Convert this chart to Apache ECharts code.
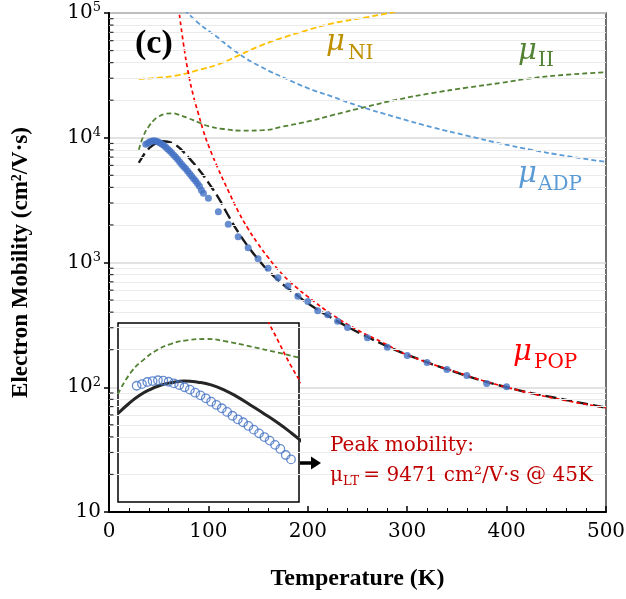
<!DOCTYPE html>
<html>
<head>
<meta charset="utf-8">
<script src="https://cdn.jsdelivr.net/npm/echarts@6.0.0/dist/echarts.min.js"></script>
<style>
  body { margin: 0; background: #fff; }
  #chart { width: 626px; height: 599px; }
</style>
</head>
<body>
<div id="chart"></div>
<script>
// measured mobility (cm2/V.s) vs temperature (K)
let expT = [37, 39, 41, 43, 45, 47, 49, 51, 53, 55, 57, 59, 61, 63, 65, 67, 69, 71, 73, 75,
            77, 79, 81, 83, 85, 87, 89, 91, 93, 95,
            100, 110, 120, 130, 140, 150, 160, 170, 180, 190, 200, 210, 220, 230, 240,
            260, 280, 300, 320, 340, 360, 380, 400];
let expV = [8850, 9040, 9270, 9380, 9471, 9420, 9300, 9120, 8930, 8690, 8440, 8130, 7870, 7590, 7280, 7000, 6720, 6420, 6130, 5870,
            5660, 5410, 5170, 4940, 4720, 4520, 4290, 4080, 3790, 3590,
            3270, 2554, 2024, 1610, 1314, 1073, 898, 755, 648, 536, 487, 410, 381, 338, 301,
            249, 209, 180, 158, 139, 124, 107, 101];

// total calculated mobility
let totT = [30, 34, 38, 42, 46, 50, 55, 60, 65, 70, 75, 80, 85, 90, 95, 100, 110, 120, 130, 140,
            150, 160, 170, 180, 190, 200, 220, 240, 260, 280, 300, 350, 400, 450, 500];
let totV = [6300, 7100, 7850, 8450, 8900, 9200, 9380, 9250, 8950, 8400, 7700, 6950, 6270, 5620, 4980, 4365, 3310, 2380, 1750, 1340,
            1060, 860, 725, 620, 540, 470, 375, 305, 253, 213, 182, 131, 100, 82, 68.6];

// polar optical phonon
let popT = [70, 75, 80, 85, 90, 95, 100, 110, 120, 130, 140, 150, 160, 170, 180, 190, 200, 225, 250, 275, 300, 350, 400, 450, 500];
let popV = [110000, 56000, 32500, 21500, 15500, 11300, 8700, 5600, 3760, 2570, 1860, 1410, 1100, 880, 725, 617, 532, 380, 288, 229, 182, 132, 100, 81, 68.6];

// ionized impurity
let iiT = [30, 35, 40, 45, 50, 55, 63, 70, 80, 90, 100, 115, 135, 155, 175, 200, 225, 260, 290, 325, 360, 395, 425, 460, 500];
let iiV = [8000, 10500, 12300, 13800, 14800, 15400, 15700, 15300, 14300, 13300, 12400, 11750, 11400, 11500, 12300, 13500, 15200, 17800, 20200, 22800, 25200, 27600, 30000, 32000, 33500];

// acoustic deformation potential
let adpT = [76, 90, 106, 130, 153, 180, 200, 225, 250, 290, 325, 360, 395, 425, 460, 500];
let adpV = [106000, 83000, 66700, 47500, 37000, 29300, 25000, 21300, 18100, 14500, 12150, 10400, 8950, 8000, 7150, 6400];

// neutral impurity
let niT = [30, 50, 70, 90, 110, 130, 150, 173, 200, 225, 259, 290];
let niV = [29600, 30300, 31800, 34900, 38800, 45500, 53700, 62700, 73000, 82600, 92400, 103000];

let xTicks = [0, 100, 200, 300, 400, 500];
let yDecades = [10, 100, 1000, 10000, 100000];

function zip(a, b) {
  let out = [];
  for (let i = 0; i < a.length; i++) out.push([a[i], b[i]]);
  return out;
}

// log minor grid lines / ticks at 2..9 of each decade
let minorVals = [];
for (let d = 0; d < yDecades.length - 1; d++) {
  for (let k = 2; k <= 9; k++) minorVals.push(yDecades[d] * k);
}

let serif = 'DejaVu Serif';
let times = 'Liberation Serif';

function dashed(name, x, y, color, dash, width, xi) {
  return {
    name: name, type: 'line', xAxisIndex: xi, yAxisIndex: xi,
    data: zip(x, y), smooth: true, showSymbol: false, symbol: 'none',
    lineStyle: { color: color, width: width, type: dash },
    z: xi ? 12 : 3, silent: true, clip: true
  };
}

function label(x, y, text, size, color, italic, family, bold) {
  return {
    type: 'text', x: x, y: y, z: 100,
    style: {
      text: text, fill: color, font: (italic ? 'italic ' : '') + (bold ? 'bold ' : '') + size + 'px "' + (family || serif) + '"',
      verticalAlign: 'middle', align: 'left'
    }
  };
}

let chart = echarts.init(document.getElementById('chart'));
let option = {
  backgroundColor: '#fff',
  animation: false,
  grid: [
    { left: 109, top: 13, right: 20, bottom: 87, show: true, borderColor: '#404040', borderWidth: 1.5,
      containLabel: false, outerBoundsMode: 'none' },
    { left: 118, top: 323, width: 181, height: 179, show: true, backgroundColor: '#fff',
      borderColor: '#000', borderWidth: 1.5, z: 4, containLabel: false, outerBoundsMode: 'none' }
  ],
  xAxis: [
    {
      type: 'value', gridIndex: 0, min: 0, max: 500, interval: 100,
      axisLine: { lineStyle: { color: '#000', width: 2 } },
      axisTick: { inside: true, length: 6, lineStyle: { color: '#000', width: 1.5 } },
      minorTick: { show: true, splitNumber: 5, length: 4, lineStyle: { color: '#000' } },
      splitLine: { show: false },
      axisLabel: { fontFamily: serif, fontSize: 20, color: '#000', margin: 10,
        formatter: function (v) { return xTicks.indexOf(v) >= 0 ? String(v) : ''; } },
      name: 'Temperature (K)', nameLocation: 'middle', nameGap: 55,
      nameTextStyle: { fontFamily: times, fontWeight: 'bold', fontSize: 24, color: '#000' }
    },
    { type: 'value', gridIndex: 1, min: 30, max: 98, show: false }
  ],
  yAxis: [
    {
      type: 'log', gridIndex: 0, min: 10, max: 100000, logBase: 10,
      axisLine: { lineStyle: { color: '#000', width: 2 } },
      axisTick: { length: 5, lineStyle: { color: '#000', width: 1.5 } },
      splitLine: { lineStyle: { color: '#D9D9D9', width: 1.5 } },
      axisLabel: {
        margin: 8, color: '#000',
        formatter: function (v) {
          if (v <= 10) return '{a|10}';
          return '{a|10}{b|' + Math.round(Math.log10(v)) + '}';
        },
        rich: {
          a: { fontFamily: serif, fontSize: 20, color: '#000' },
          b: { fontFamily: serif, fontSize: 13, color: '#000', verticalAlign: 'top', padding: [0, 0, 10, 0] }
        }
      },
      name: 'Electron Mobility (cm\u00B2/V\u00B7s)', nameLocation: 'middle', nameGap: 76,
      nameTextStyle: { fontFamily: times, fontWeight: 'bold', fontSize: 23, color: '#000' }
    },
    { type: 'log', gridIndex: 1, min: 2130, max: 19100, logBase: 10, show: false }
  ],
  series: [
    // minor gridlines and minor ticks of the log axis
    {
      type: 'line', xAxisIndex: 0, yAxisIndex: 0, data: [], z: 1, silent: true,
      markLine: {
        silent: true, symbol: 'none', label: { show: false }, animation: false,
        lineStyle: { color: '#EBEBEB', width: 1, type: 'solid' },
        data: minorVals.map(function (v) { return { yAxis: v }; })
      }
    },
    {
      type: 'scatter', xAxisIndex: 0, yAxisIndex: 0, silent: true, clip: false, z: 5,
      symbol: 'rect', symbolSize: [4, 1.2], symbolOffset: [2.5, 0],
      itemStyle: { color: '#000' },
      data: minorVals.map(function (v) { return [0, v]; })
    },
    dashed('ADP', adpT, adpV, '#5B9BD5', [5, 3], 1.8, 0),
    dashed('NI', niT, niV, '#FFC000', [6, 3], 1.8, 0),
    dashed('II', iiT, iiV, '#548235', [5, 3], 1.8, 0),
    dashed('Total', totT, totV, '#1A1A1A', [11, 5], 2.4, 0),
    dashed('POP', popT, popV, '#FF0000', [4, 3], 1.7, 0),
    {
      name: 'Experiment', type: 'scatter', xAxisIndex: 0, yAxisIndex: 0,
      data: zip(expT, expV), symbol: 'circle', symbolSize: 7, z: 6,
      itemStyle: { color: '#4472C4' }
    },
    // inset
    dashed('II inset', iiT, iiV, '#548235', [5, 3], 1.8, 1),
    dashed('POP inset', popT, popV, '#FF0000', [4, 3], 1.7, 1),
    {
      name: 'Total inset', type: 'line', xAxisIndex: 1, yAxisIndex: 1,
      data: zip(totT, totV), smooth: true, showSymbol: false, symbol: 'none',
      lineStyle: { color: '#262626', width: 3 }, z: 12, clip: true
    },
    {
      name: 'Experiment inset', type: 'scatter', xAxisIndex: 1, yAxisIndex: 1,
      data: zip(expT, expV), symbol: 'circle', symbolSize: 8.5, z: 13, clip: true,
      itemStyle: { color: 'rgba(0,0,0,0)', borderColor: '#4472C4', borderWidth: 1.3 }
    }
  ],
  graphic: [
    label(135, 44, '(c)', 34, '#000', false, times, true),
    label(326, 42, '\u03BC', 29, '#BF9000', true),
    label(348, 54, 'NI', 20, '#BF9000'),
    label(518, 51, '\u03BC', 29, '#548235', true),
    label(538, 61, 'II', 20, '#548235'),
    label(518, 174, '\u03BC', 29, '#5B9BD5', true),
    label(538, 185, 'ADP', 20, '#5B9BD5'),
    label(513, 352, '\u03BC', 29, '#FF0000', true),
    label(534, 363, 'POP', 20, '#FF0000'),
    label(330, 446, 'Peak mobility:', 20, '#C00000'),
    label(330, 476, '\u03BC', 20, '#C00000'),
    label(343, 482, 'LT', 13, '#C00000'),
    label(357, 476, ' = 9471 cm\u00B2/V\u00B7s @ 45K', 20, '#C00000'),
    // arrow from inset to note
    { type: 'line', z: 100, shape: { x1: 300, y1: 463, x2: 313, y2: 463 }, style: { stroke: '#000', lineWidth: 3.5 } },
    { type: 'polygon', z: 100, shape: { points: [[311, 456.5], [321, 463], [311, 469.5]] }, style: { fill: '#000' } }
  ]
};
chart.setOption(option);
</script>
</body>
</html>
